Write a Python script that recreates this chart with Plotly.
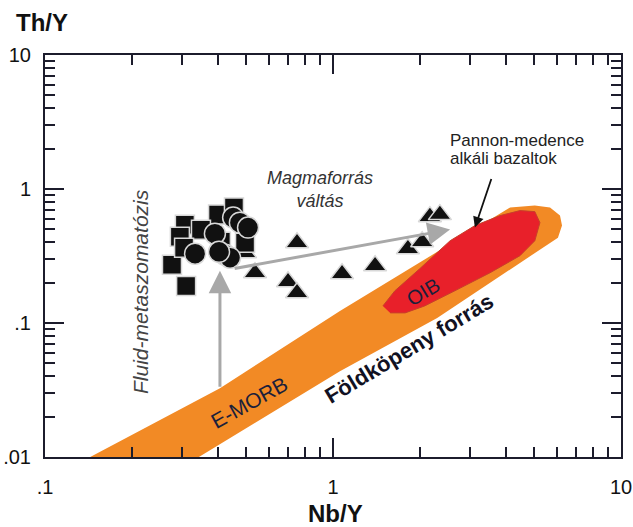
import numpy as np
import plotly.graph_objects as go

# ---------------- data ----------------
# Mantle array band (Nb/Y, Th/Y) outline: upper edge, rounded end, lower edge
band_x = [0.141, 0.405, 1.057, 4.12, 5.02, 5.67, 6.14, 6.24, 6.04, 2.30, 1.057, 0.337]
band_y = [0.0098, 0.0326, 0.123, 0.727, 0.752, 0.727, 0.633, 0.533, 0.433, 0.109, 0.0437, 0.0098]

# OIB field (Pannonian Basin alkali basalts)
oib_x = [1.49, 1.64, 2.00, 2.55, 3.11, 3.80, 4.46, 5.02, 5.23, 5.02, 4.46, 3.51, 2.65, 2.08, 1.78, 1.58]
oib_y = [0.134, 0.174, 0.254, 0.411, 0.533, 0.633, 0.690, 0.678, 0.561, 0.411, 0.318, 0.237, 0.174, 0.134, 0.119, 0.119]

# samples
sq_x = [0.276, 0.309, 0.306, 0.399, 0.453, 0.348, 0.294, 0.408, 0.304, 0.495]
sq_y = [0.272, 0.189, 0.542, 0.644, 0.727, 0.497, 0.441, 0.404, 0.365, 0.397]
ci_x = [0.450, 0.475, 0.507, 0.389, 0.332, 0.422, 0.439, 0.402]
ci_y = [0.612, 0.561, 0.515, 0.464, 0.329, 0.323, 0.307, 0.340]
tr_x = [0.750, 0.495, 0.536, 0.698, 0.750, 1.075, 1.40, 1.82, 2.04, 2.17, 2.35]
tr_y = [0.397, 0.334, 0.237, 0.203, 0.168, 0.233, 0.267, 0.358, 0.404, 0.622, 0.644]

# arrows: (tail x, tail y, tip x, tip y)
arrow_fluid = (0.405, 0.0326, 0.405, 0.245)
arrow_source = (0.450, 0.254, 2.55, 0.498)
arrow_label = (3.56, 1.22, 3.11, 0.515)

# axis ticks
x_major = [0.1, 1, 10]
x_major_text = [".1", "1", "10"]
y_major = [0.01, 0.1, 1, 10]
y_major_text = [".01", ".1", "1", "10"]
x_minor = [m * d for d in (0.1, 1) for m in range(2, 10)]
y_minor = [m * d for d in (0.01, 0.1, 1) for m in range(2, 10)]

FONT = "Arial, Liberation Sans, Helvetica, sans-serif"
AXC = "#1c1c2c"
W, H = 633, 527
L, R, T, B = 45, 12, 55, 70

fig = go.Figure()
fig.add_trace(go.Scatter(x=band_x, y=band_y, mode="lines", fill="toself",
                         fillcolor="#f28a25", line=dict(color="#f28a25", width=0),
                         hoverinfo="skip", showlegend=False))
fig.add_trace(go.Scatter(x=oib_x, y=oib_y, mode="lines", fill="toself",
                         fillcolor="#e8202a", line=dict(color="#c8402a", width=1),
                         hoverinfo="skip", showlegend=False))

mk_line = dict(color="#d8d8d8", width=1.5)
fig.add_trace(go.Scatter(x=tr_x, y=tr_y, mode="markers", showlegend=False,
                         marker=dict(symbol="triangle-up", size=20, color="#111111", line=mk_line)))
fig.add_trace(go.Scatter(x=sq_x, y=sq_y, mode="markers", showlegend=False,
                         marker=dict(symbol="square", size=19, color="#111111", line=mk_line)))
fig.add_trace(go.Scatter(x=ci_x, y=ci_y, mode="markers", showlegend=False,
                         marker=dict(symbol="circle", size=21, color="#111111", line=mk_line)))

lg = np.log10
def arrow(a, color, width, size):
    return dict(x=lg(a[2]), y=lg(a[3]), ax=lg(a[0]), ay=lg(a[1]), xref="x", yref="y",
                axref="x", ayref="y", text="", showarrow=True, arrowhead=2,
                arrowcolor=color, arrowwidth=width, arrowsize=size, standoff=0, startstandoff=0)

pw, ph = W - L - R, H - T - B
def px(x):
    return (x - L) / pw
def py(y):
    return (H - B - y) / ph

def label(text, x, y, size, angle=0, color="#222", xanchor="center", bold=False, italic=False):
    if bold:
        text = "<b>" + text + "</b>"
    if italic:
        text = "<i>" + text + "</i>"
    return dict(text=text, x=px(x), y=py(y), xref="paper", yref="paper", showarrow=False,
                textangle=angle, xanchor=xanchor, yanchor="middle",
                font=dict(family=FONT, size=size, color=color))

annotations = [
    arrow(arrow_fluid, "#a8a8a8", 3, 1.5),
    arrow(arrow_source, "#a8a8a8", 3, 1.5),
    arrow(arrow_label, "#111111", 1.8, 1.2),
    label("Magmaforrás<br>váltás", 320, 189, 18, color="#333", italic=True),
    label("Pannon-medence", 448, 140, 17, color="#222", xanchor="left"),
    label("alkáli bazaltok", 448, 158, 17, color="#222", xanchor="left"),
    label("Fluid-metaszomatózis", 140, 292, 21, angle=-90, color="#444", italic=True),
    label("E-MORB", 249, 402, 21, angle=-29, color="#1b1f3b"),
    label("OIB", 423, 292, 20, angle=-31, color="#1b1f3b"),
    label("Földköpeny forrás", 409, 348, 22, angle=-31, color="#111122", bold=True),
    label("Th/Y", 42, 22, 24, color="#111", bold=True),
    label("Nb/Y", 335, 513, 24, color="#111", bold=True),
]

axis_common = dict(type="log", ticks="inside", ticklen=19, tickwidth=2, tickcolor=AXC,
                   showline=True, linewidth=2, linecolor=AXC, mirror="allticks",
                   showgrid=False, zeroline=False, automargin=False,
                   tickfont=dict(family=FONT, size=20, color="#111"))

fig.update_xaxes(range=[-1, 1], tickmode="array", tickvals=x_major, ticktext=x_major_text,
                 ticklabelstandoff=11,
                 minor=dict(tickmode="array", tickvals=x_minor, ticks="inside", ticklen=10,
                            tickwidth=2, tickcolor=AXC, showgrid=False),
                 **axis_common)
fig.update_yaxes(range=[-2, 1], tickmode="array", tickvals=y_major, ticktext=y_major_text,
                 ticklabelstandoff=8,
                 minor=dict(tickmode="array", tickvals=y_minor, ticks="inside", ticklen=10,
                            tickwidth=2, tickcolor=AXC, showgrid=False),
                 **axis_common)

fig.update_layout(width=W, height=H, margin=dict(l=L, r=R, t=T, b=B, autoexpand=False),
                  paper_bgcolor="white", plot_bgcolor="white",
                  annotations=annotations, showlegend=False)

fig.write_html("out.html", config={"displayModeBar": False},
               post_script="document.body.style.margin='0';document.body.style.overflow='hidden';")
